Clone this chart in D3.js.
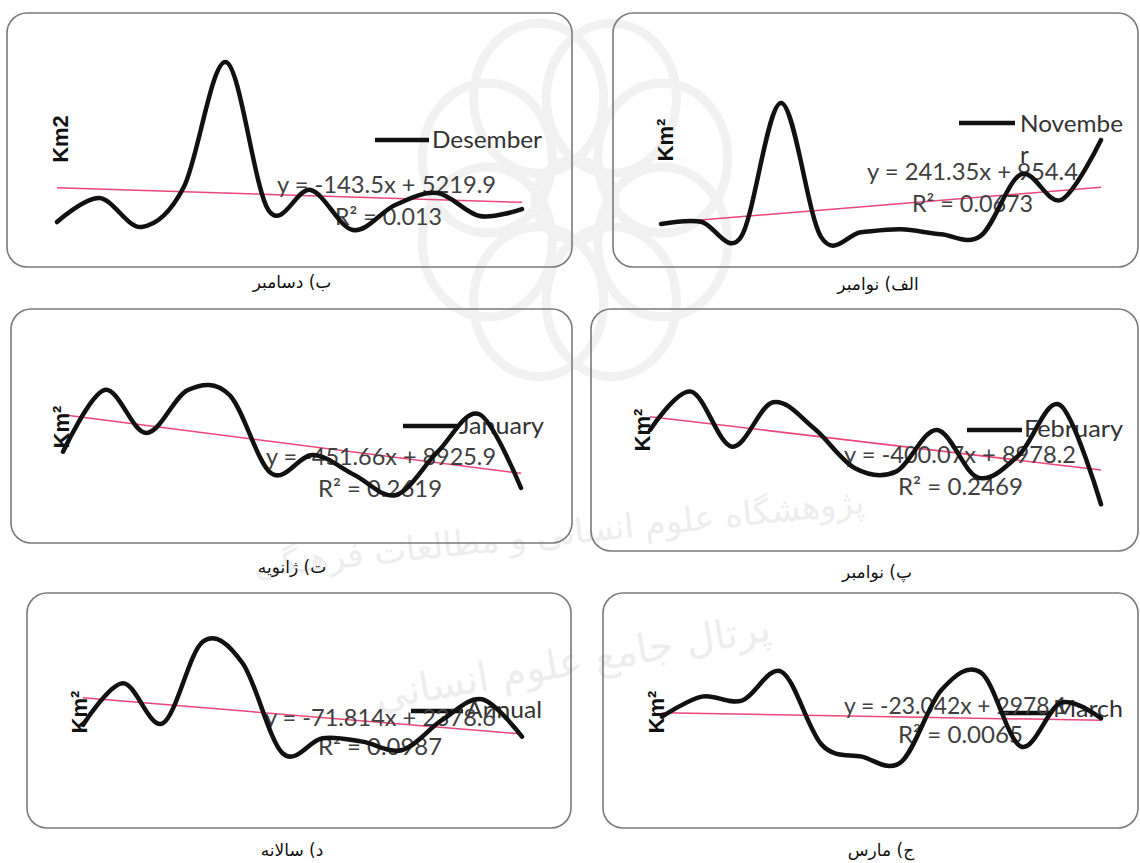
<!DOCTYPE html>
<html>
<head>
<meta charset="utf-8">
<script src="https://cdn.jsdelivr.net/npm/d3@7"></script>
<style>
  body { margin: 0; background: #fff; }
  svg { display: block; }
</style>
</head>
<body>
<svg id="chart" width="1140" height="863"></svg>
<script>
// years 1..12 on the (hidden) x axis
var years = [1, 2, 3, 4, 5, 6, 7, 8, 9, 10, 11, 12];

// snow cover area, km2
var november = [1144, 1314, 186, 10062, 190, 532, 753, 385, 282, 4807, 2913, 7335];
var december = [1371, 3964, 831, 5150, 18652, 2668, 4828, 508, 3208, 4503, 2020, 2775];
var january  = [5341, 10580, 6929, 10580, 10155, 3507, 5061, 3363, 1665, 5341, 8516, 2260];
var february = [7479, 10643, 6100, 9767, 7620, 4316, 4035, 7479, 3539, 5414, 9544, 1342];
var march    = [2823, 3483, 3351, 4300, 1900, 1503, 1338, 3700, 4270, 1833, 3285, 2770];
var annual   = [1713, 2627, 1750, 3537, 3064, 1094, 1422, 1348, 1166, 1823, 2276, 1457];

// linear trend lines as printed on each chart
var trendSlope     = { nov: 241.35, dec: -143.5, jan: -451.66, feb: -400.07, mar: -23.042, ann: -71.814 };
var trendIntercept = { nov: 954.4,  dec: 5219.9, jan: 8925.9,  feb: 8978.2,  mar: 2978.1,  ann: 2378.6 };
var trendR2        = { nov: "0.0673", dec: "0.013", jan: "0.2619", feb: "0.2469", mar: "0.0065", ann: "0.0987" };

// captions under each chart
var captions = { nov: "الف) نوامبر", dec: "ب) دسامبر", feb: "پ) نوامبر", jan: "ت) ژانویه", mar: "ج) مارس", ann: "د) سالانه" };
var legendNames = { nov: ["Novembe", "r"], dec: ["Desember"], jan: ["January"], feb: ["February"], mar: ["March"], ann: ["Annual"] };

// page layout of the six charts
var panels = [
  { key: "dec", values: december, box: [7, 13, 565, 254], xr: [57, 522], yZero: 234.7, upp: 108.1, unit: "Km2", unitPos: [60, 139],
    legend: [375, 429, 140, 432, 542, 148], eq: [277, 496, 193], r2: [335, 442, 225], cap: [292, 288] },
  { key: "nov", values: november, box: [613, 13, 525, 254], xr: [661, 1101], yZero: 239.5, upp: 73.7, unit: "Km²", unitPos: [665, 140],
    legend: [959, 1015, 123, 1020, 1123, 132], eq: [867, 1078, 180], r2: [912, 1033, 212], cap: [878, 290] },
  { key: "jan", values: january, box: [11, 309, 561, 234], xr: [63, 521], yZero: 514.6, upp: 84.9, unit: "Km²", unitPos: [61, 427],
    legend: [403, 457, 426, 459, 544, 434], eq: [266, 496, 465], r2: [318, 442, 497], cap: [292, 573] },
  { key: "feb", values: february, box: [591, 309, 547, 242], xr: [650, 1101], yZero: 520.5, upp: 82.6, unit: "Km²", unitPos: [642, 430],
    legend: [967, 1022, 430, 1024, 1123, 437], eq: [844, 1076, 463], r2: [898, 1023, 495], cap: [877, 578] },
  { key: "ann", values: annual, box: [27, 593, 544, 235], xr: [83, 522], yZero: 803.2, upp: 21.9, unit: "Km²", unitPos: [79, 712],
    legend: [411, 463, 711, 466, 542, 718], eq: [265, 496, 726], r2: [318, 442, 755], cap: [292, 856] },
  { key: "mar", values: march, box: [603, 593, 535, 235], xr: [662, 1101], yZero: 802.2, upp: 33, unit: "Km²", unitPos: [656, 712],
    legend: [1001, 1050, 713, 1053, 1123, 717], eq: [844, 1068, 714], r2: [898, 1023, 743], cap: [881, 856] }
];

var svg = d3.select("#chart");
var textFont = "Lato, 'Open Sans', 'DejaVu Sans', sans-serif";

// faint watermark behind the charts
var wm = svg.append("g").attr("fill", "none").attr("stroke", "#f1f1f1").attr("stroke-width", 9);
d3.range(8).forEach(function (i) {
  var a = i * Math.PI / 4 + Math.PI / 8;
  wm.append("ellipse")
    .attr("cx", 575 + Math.cos(a) * 95)
    .attr("cy", 200 + Math.sin(a) * 110)
    .attr("rx", 65).attr("ry", 75);
});
wm.append("circle").attr("cx", 575).attr("cy", 200).attr("r", 40);
svg.append("text").attr("x", 560).attr("y", 545).attr("text-anchor", "middle")
  .attr("transform", "rotate(-6,560,545)")
  .attr("font-family", "'DejaVu Sans', sans-serif").attr("font-size", 34).attr("fill", "#ededed")
  .attr("direction", "rtl").text("پژوهشگاه علوم انسانی و مطالعات فرهنگی");
svg.append("text").attr("x", 575).attr("y", 675).attr("text-anchor", "middle")
  .attr("transform", "rotate(-10,575,675)")
  .attr("font-family", "'DejaVu Sans', sans-serif").attr("font-size", 40).attr("fill", "#ededed")
  .attr("direction", "rtl").text("پرتال جامع علوم انسانی");

panels.forEach(function (p) {
  var g = svg.append("g").attr("class", "panel " + p.key);

  g.append("rect")
    .attr("x", p.box[0]).attr("y", p.box[1])
    .attr("width", p.box[2]).attr("height", p.box[3])
    .attr("rx", 20).attr("ry", 20)
    .attr("fill", "none")
    .attr("stroke", "#7a7a7a").attr("stroke-width", 1.6);

  var yTop = 20000;
  var x = d3.scaleLinear().domain([1, 12]).range(p.xr);
  var y = d3.scaleLinear().domain([0, yTop]).range([p.yZero, p.yZero - yTop / p.upp]);

  var data = years.map(function (yr, i) { return { year: yr, value: p.values[i] }; });

  var line = d3.line()
    .x(function (d) { return x(d.year); })
    .y(function (d) { return y(d.value); })
    .curve(d3.curveCardinal.tension(0));

  // legend
  var lg = p.legend;
  g.append("line")
    .attr("x1", lg[0]).attr("x2", lg[1]).attr("y1", lg[2]).attr("y2", lg[2])
    .attr("stroke", "#111").attr("stroke-width", 4.5);
  var names = legendNames[p.key];
  g.append("text")
    .attr("x", lg[3]).attr("y", lg[5])
    .attr("font-family", textFont).attr("font-size", 24).attr("fill", "#333")
    .attr("textLength", lg[4] - lg[3]).attr("lengthAdjust", "spacingAndGlyphs")
    .text(names[0]);
  if (names.length > 1) {
    g.append("text")
      .attr("x", lg[3]).attr("y", lg[5] + 31)
      .attr("font-family", textFont).attr("font-size", 24).attr("fill", "#333")
      .text(names[1]);
  }

  // trend line
  var tl = years.filter(function (yr) { return yr === 1 || yr === 12; }).map(function (yr) {
    return { year: yr, value: trendSlope[p.key] * yr + trendIntercept[p.key] };
  });
  g.append("path")
    .datum(tl)
    .attr("d", d3.line().x(function (d) { return x(d.year); }).y(function (d) { return y(d.value); }))
    .attr("stroke", "#f0457a").attr("stroke-width", 1.5).attr("fill", "none");

  // equation and R2
  var s = trendSlope[p.key];
  var eqText = "y = " + s + "x + " + trendIntercept[p.key];
  g.append("text")
    .attr("x", p.eq[0]).attr("y", p.eq[2])
    .attr("font-family", textFont).attr("font-size", 24).attr("fill", "#404040")
    .attr("textLength", p.eq[1] - p.eq[0]).attr("lengthAdjust", "spacingAndGlyphs")
    .text(eqText);
  g.append("text")
    .attr("x", p.r2[0]).attr("y", p.r2[2])
    .attr("font-family", textFont).attr("font-size", 24).attr("fill", "#404040")
    .attr("textLength", p.r2[1] - p.r2[0]).attr("lengthAdjust", "spacingAndGlyphs")
    .text("R² = " + trendR2[p.key]);

  // series
  g.append("path")
    .datum(data)
    .attr("d", line)
    .attr("fill", "none")
    .attr("stroke", "#111")
    .attr("stroke-width", 4.5)
    .attr("stroke-linecap", "round")
    .attr("stroke-linejoin", "round");

  // y axis title
  g.append("text")
    .attr("transform", "translate(" + p.unitPos[0] + "," + p.unitPos[1] + ") rotate(-90)")
    .attr("text-anchor", "middle").attr("dy", "0.35em")
    .attr("font-family", "'Liberation Sans', Arial, sans-serif").attr("font-weight", "bold")
    .attr("font-size", 22).attr("fill", "#111")
    .text(p.unit);

  // caption
  g.append("text")
    .attr("x", p.cap[0]).attr("y", p.cap[1])
    .attr("text-anchor", "middle").attr("direction", "rtl")
    .attr("font-family", "'DejaVu Sans', sans-serif").attr("font-size", 17).attr("fill", "#111")
    .text(captions[p.key]);
});
</script>
</body>
</html>
